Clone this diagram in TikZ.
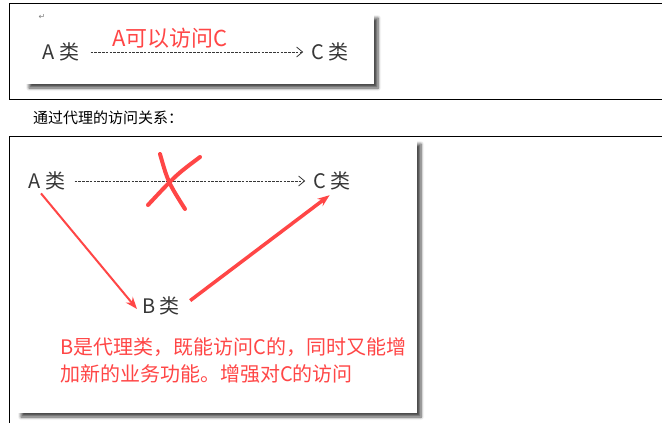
\documentclass[tikz,border=0pt]{standalone}
\usepackage{fontspec}
\setmainfont{Noto Sans CJK SC}
\newfontfamily\symfont{DejaVu Sans}
\usepackage{xcolor}
\usepackage{tikz}
\usetikzlibrary{arrows.meta,shadows.blur}
\definecolor{myred}{RGB}{255,70,70}
\definecolor{mytext}{RGB}{55,55,55}
\tikzstyle{cls} = [inner sep=3pt,text=mytext,font=\fontsize{20}{24}\selectfont]
\tikzstyle{note} = [inner sep=0pt,anchor=west,text=myred,font=\fontsize{20}{26}\selectfont]
\tikzstyle{dasharrow} = [mytext,line width=0.8pt,dash pattern=on 2.6pt off 1.2pt,shorten >=5pt,-{Straight Barb[length=6pt,width=10pt]}]
\tikzstyle{redarrow} = [myred,-{Stealth[length=12pt,width=9pt]}]
\tikzstyle{shot} = [fill=white,blur shadow={shadow xshift=4pt,shadow yshift=-4pt,shadow opacity=70,shadow blur steps=6,shadow blur radius=3pt}]

\begin{document}
\begin{tikzpicture}[x=1pt,y=-1pt]
        \useasboundingbox (0,0) rectangle (662,423);
        % frames
        \draw[black] (662,3) -- (9,3) -- (9,99) -- (662,99);
        \draw[black] (662,136) -- (9,136) -- (9,423);
        \path[shot] (25,14) rectangle (374,84);
        \path[shot] (17,140) rectangle (417,413);
        % Step 1
        \node[inner sep=0pt,text=gray,font=\symfont\fontsize{8}{8}\selectfont] (ret) at (42,17) {↵};
        \node[cls] (a1) at (61,52) {A 类};
        \node[cls] (c1) at (330,52) {C 类};
        \node[note,font=\fontsize{22}{26}\selectfont] (t1) at (112,38) {A可以访问C};
        \draw[dasharrow] ([xshift=8pt]a1.east) -- (c1.west);
        % Step 2
        \node[inner sep=0pt,anchor=west,text=black,font=\fontsize{15}{18}\selectfont] (cap) at (33,118) {通过代理的访问关系：};
        \node[cls] (a2) at (47,181) {A 类};
        \node[cls] (c2) at (332,181) {C 类};
        \node[cls] (b) at (161,306) {B 类};
        \node[note] (t2) at (60,347) {B是代理类，既能访问C的，同时又能增};
        \node[note] (t3) at (60,374) {加新的业务功能。增强对C的访问};
        % egdes
        \draw[dasharrow] ([xshift=6pt]a2.east) -- (c2.west);
        \draw[redarrow, line width=2pt] ([xshift=-6pt]a2.south) -- ([xshift=-2pt,yshift=-3pt]b.west);
        \draw[redarrow, line width=3.5pt, shorten <=9pt, shorten >=3pt] (b.east) -- (c2.south);
        % cross
        \draw[myred, line width=4pt, line cap=round] (160,154) .. controls (168,182) .. (185,209);
        \draw[myred, line width=4pt, line cap=round] (200,157) .. controls (176,175) .. (148,205);
    \end{tikzpicture}
\end{document}
